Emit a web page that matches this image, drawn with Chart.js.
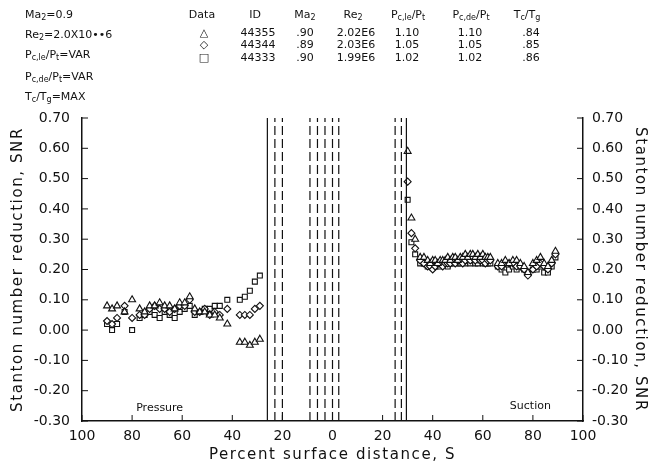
<!DOCTYPE html>
<html>
<head>
<meta charset="utf-8">
<script src="https://cdn.jsdelivr.net/npm/chart.js@4.4.0/dist/chart.umd.min.js"></script>
<style>
  body { margin: 0; background: #fff; }
  #wrap { position: relative; width: 652px; height: 466px; }
  #wrap canvas { position: absolute; left: 0; top: 0; }
  .hd { position: absolute; font-family: "DejaVu Sans", sans-serif; font-size: 11px; color: #111; white-space: nowrap; line-height: 14px; }
  .c { text-align: center; width: 70px; }
  sub { font-size: 8px; vertical-align: -2px; line-height: 0; }
</style>
</head>
<body>
<div id="wrap">
  <canvas id="chart" width="652" height="466"></canvas>

  <div class="hd" style="left:25px;top:8px">Ma<sub>2</sub>=0.9</div>
  <div class="hd" style="left:25px;top:28px">Re<sub>2</sub>=2.0X10••6</div>
  <div class="hd" style="left:25px;top:48px">P<sub>c,le</sub>/P<sub>t</sub>=VAR</div>
  <div class="hd" style="left:25px;top:70px">P<sub>c,de</sub>/P<sub>t</sub>=VAR</div>
  <div class="hd" style="left:25px;top:90px">T<sub>c</sub>/T<sub>g</sub>=MAX</div>

  <div class="hd c" style="left:167px;top:8px">Data</div>
  <div class="hd c" style="left:220px;top:8px">ID</div>
  <div class="hd c" style="left:270px;top:8px">Ma<sub>2</sub></div>
  <div class="hd c" style="left:318px;top:8px">Re<sub>2</sub></div>
  <div class="hd c" style="left:373px;top:8px">P<sub>c,le</sub>/P<sub>t</sub></div>
  <div class="hd c" style="left:436px;top:8px">P<sub>c,de</sub>/P<sub>t</sub></div>
  <div class="hd c" style="left:492px;top:8px">T<sub>c</sub>/T<sub>g</sub></div>

  <div class="hd c" style="left:169px;top:26px">△</div>
  <div class="hd c" style="left:223px;top:26px">44355</div>
  <div class="hd c" style="left:270px;top:26px">.90</div>
  <div class="hd c" style="left:321px;top:26px">2.02E6</div>
  <div class="hd c" style="left:372px;top:26px">1.10</div>
  <div class="hd c" style="left:435px;top:26px">1.10</div>
  <div class="hd c" style="left:496px;top:26px">.84</div>

  <div class="hd c" style="left:169px;top:38px">◇</div>
  <div class="hd c" style="left:223px;top:38px">44344</div>
  <div class="hd c" style="left:270px;top:38px">.89</div>
  <div class="hd c" style="left:321px;top:38px">2.03E6</div>
  <div class="hd c" style="left:372px;top:38px">1.05</div>
  <div class="hd c" style="left:435px;top:38px">1.05</div>
  <div class="hd c" style="left:496px;top:38px">.85</div>

  <div class="hd c" style="left:169px;top:51px">□</div>
  <div class="hd c" style="left:223px;top:51px">44333</div>
  <div class="hd c" style="left:270px;top:51px">.90</div>
  <div class="hd c" style="left:321px;top:51px">1.99E6</div>
  <div class="hd c" style="left:372px;top:51px">1.02</div>
  <div class="hd c" style="left:435px;top:51px">1.02</div>
  <div class="hd c" style="left:496px;top:51px">.86</div>
</div>

<script>
// percent surface distance: pressure side negative, suction side positive
const pressureS = [-90, -88, -86, -83, -80, -77, -75, -73, -71, -69, -67, -65, -63, -61, -59, -57, -55, -53, -51, -49, -47, -45, -42, -37, -35, -33, -31, -29];
const suctionS = [30, 31.5, 33, 35, 36.5,
  38, 39, 40, 41, 42, 43, 44, 45, 46, 47, 48, 49, 50, 51, 52, 53, 54, 55, 56, 57, 58, 59, 60, 61, 62, 63,
  66, 67.5, 69, 70.5, 72, 73.5, 75, 76.5, 78,
  80, 81.5, 83, 84.5, 86, 87.5, 89];

// 44355 (triangles)
const tri_p = [0.08, 0.07, 0.08, 0.06, 0.10, 0.07, 0.06, 0.08, 0.08, 0.09, 0.08, 0.08, 0.07, 0.09, 0.09, 0.11, 0.07, 0.06, 0.06, 0.05, 0.05, 0.04, 0.02, -0.04, -0.04, -0.05, -0.04, -0.03];
const tri_s = [0.59, 0.37, 0.30, 0.24, 0.24,
  0.23, 0.22, 0.23, 0.23, 0.22, 0.23, 0.23, 0.23, 0.24, 0.23, 0.24, 0.24, 0.23, 0.24, 0.24, 0.25, 0.24, 0.25, 0.25, 0.24, 0.25, 0.24, 0.25, 0.24, 0.24, 0.24,
  0.22, 0.22, 0.23, 0.22, 0.23, 0.23, 0.22, 0.21, 0.19,
  0.22, 0.23, 0.24, 0.22, 0.21, 0.23, 0.26];
// 44344 (diamonds)
const dia_p = [0.03, 0.02, 0.04, 0.08, 0.04, 0.05, 0.05, 0.07, 0.08, 0.07, 0.07, 0.06, 0.07, 0.08, 0.08, 0.10, 0.06, 0.06, 0.07, 0.05, 0.06, 0.05, 0.07, 0.05, 0.05, 0.05, 0.07, 0.08];
const dia_s = [0.49, 0.32, 0.27, 0.23, 0.22,
  0.21, 0.21, 0.20, 0.21, 0.22, 0.22, 0.21, 0.22, 0.22, 0.22, 0.23, 0.22, 0.23, 0.23, 0.22, 0.23, 0.24, 0.23, 0.24, 0.23, 0.24, 0.23, 0.23, 0.22, 0.23, 0.23,
  0.21, 0.21, 0.22, 0.22, 0.22, 0.21, 0.21, 0.20, 0.18,
  0.20, 0.21, 0.22, 0.21, 0.20, 0.22, 0.25];
// 44333 (squares)
const sq_p = [0.02, 0.00, 0.02, 0.06, 0.00, 0.04, 0.05, 0.06, 0.05, 0.04, 0.06, 0.05, 0.04, 0.06, 0.07, 0.08, 0.05, 0.06, 0.07, 0.07, 0.08, 0.08, 0.10, 0.10, 0.11, 0.13, 0.16, 0.18];
const sq_s = [0.43, 0.29, 0.25, 0.22, 0.22,
  0.21, 0.22, 0.21, 0.21, 0.22, 0.21, 0.22, 0.22, 0.21, 0.22, 0.22, 0.23, 0.22, 0.22, 0.23, 0.22, 0.23, 0.22, 0.23, 0.22, 0.22, 0.23, 0.22, 0.22, 0.22, 0.22,
  0.21, 0.20, 0.19, 0.20, 0.21, 0.20, 0.21, 0.20, 0.19,
  0.20, 0.20, 0.21, 0.19, 0.19, 0.21, 0.24];

// reference lines (percent surface distance)
const solidLines = [-26, 29.5];
const dashedLines = [-23, -20, -9, -6, -3, 0, 2.5, 25, 27.5];

const yTicks = [-0.3, -0.2, -0.1, 0, 0.1, 0.2, 0.3, 0.4, 0.5, 0.6, 0.7];
const xTicks = [-100, -80, -60, -40, -20, 0, 20, 40, 60, 80, 100];

const FONT = '"DejaVu Sans", sans-serif';

function pts(xs, ys) {
  return xs.map((x, i) => ({ x: x, y: ys[i] }));
}

function marker(label, data, style, r) {
  return {
    type: 'scatter',
    label: label,
    data: data,
    pointStyle: style,
    pointRadius: r,
    pointBorderColor: '#111',
    pointBackgroundColor: '#fff',
    pointBorderWidth: 1.1,
  };
}

function vline(s, dashed) {
  return {
    type: 'line',
    data: [{ x: s, y: -0.3 }, { x: s, y: 0.7 }],
    borderColor: '#111',
    borderWidth: 1.2,
    borderDash: dashed ? [9, 4] : [],
    pointRadius: 0,
    fill: false,
  };
}

const datasets = [
  ...solidLines.map(s => vline(s, false)),
  ...dashedLines.map(s => vline(s, true)),
  marker('44355', pts(pressureS, tri_p).concat(pts(suctionS, tri_s)), 'triangle', 4),
  marker('44344', pts(pressureS, dia_p).concat(pts(suctionS, dia_s)), 'rectRot', 3.5),
  marker('44333', pts(pressureS, sq_p).concat(pts(suctionS, sq_s)), 'rect', 3.5),
];

// wider spacing for the axis titles, like the original lettering
const spacedTitles = {
  id: 'spacedTitles',
  afterUpdate(chart) {
    Object.values(chart.scales).forEach(scale => {
      if (scale._spaced) return;
      const orig = scale.drawTitle;
      scale.drawTitle = function () {
        const ctx = this.ctx;
        const prev = ctx.letterSpacing;
        ctx.letterSpacing = '1.6px';
        orig.apply(this, arguments);
        ctx.letterSpacing = prev || '0px';
      };
      scale._spaced = true;
    });
  }
};

// inward tick marks + side labels
const extras = {
  id: 'extras',
  afterDraw(chart) {
    const { ctx, chartArea, scales } = chart;
    ctx.save();
    ctx.strokeStyle = '#111';
    ctx.lineWidth = 1;
    ctx.beginPath();
    yTicks.forEach(v => {
      const py = scales.y.getPixelForValue(v);
      ctx.moveTo(chartArea.left, py);
      ctx.lineTo(chartArea.left + 6, py);
      ctx.moveTo(chartArea.right, py);
      ctx.lineTo(chartArea.right - 6, py);
    });
    xTicks.forEach(v => {
      const px = scales.x.getPixelForValue(v);
      ctx.moveTo(px, chartArea.bottom);
      ctx.lineTo(px, chartArea.bottom - 6);
    });
    ctx.stroke();
    ctx.fillStyle = '#111';
    ctx.font = '11px ' + FONT;
    ctx.textAlign = 'center';
    ctx.textBaseline = 'middle';
    ctx.fillText('Pressure', scales.x.getPixelForValue(-69), scales.y.getPixelForValue(-0.257));
    ctx.fillText('Suction', scales.x.getPixelForValue(79), scales.y.getPixelForValue(-0.25));
    ctx.restore();
  }
};

const yTickOpts = {
  font: { family: FONT, size: 14 },
  color: '#111',
  callback: v => v.toFixed(2),
};

new Chart(document.getElementById('chart').getContext('2d'), {
  data: { datasets: datasets },
  options: {
    responsive: false,
    animation: false,
    layout: { padding: { left: 0, right: 0, top: 118, bottom: 0 } },
    plugins: { legend: { display: false }, tooltip: { enabled: false } },
    scales: {
      x: {
        type: 'linear',
        min: -100,
        max: 100,
        afterBuildTicks: s => { s.ticks = xTicks.map(v => ({ value: v })); },
        afterFit: s => { s.height = 45; },
        grid: { display: false, drawTicks: false },
        border: { display: true, color: '#111', width: 1.5 },
        ticks: {
          padding: 7,
          font: { family: FONT, size: 14 },
          color: '#111',
          maxRotation: 0,
          callback: v => String(Math.abs(v)),
        },
        title: {
          display: true,
          text: 'Percent surface distance, S',
          font: { family: FONT, size: 15 },
          color: '#111',
          padding: { top: 0, bottom: 2 },
        },
      },
      y: {
        type: 'linear',
        position: 'left',
        min: -0.3,
        max: 0.7,
        afterBuildTicks: s => { s.ticks = yTicks.map(v => ({ value: v })); },
        afterFit: s => { s.width = 82; },
        grid: { display: false, drawTicks: false },
        border: { display: true, color: '#111', width: 1.5 },
        ticks: Object.assign({ padding: 12 }, yTickOpts),
        title: {
          display: true,
          text: 'Stanton number reduction, SNR',
          font: { family: FONT, size: 15 },
          color: '#111',
          padding: { top: 9, bottom: 0 },
        },
      },
      y2: {
        type: 'linear',
        position: 'right',
        min: -0.3,
        max: 0.7,
        afterBuildTicks: s => { s.ticks = yTicks.map(v => ({ value: v })); },
        afterFit: s => { s.width = 69; },
        grid: { display: false, drawTicks: false },
        border: { display: true, color: '#111', width: 1.5 },
        ticks: Object.assign({ padding: 9 }, yTickOpts),
        title: {
          display: true,
          text: 'Stanton number reduction, SNR',
          font: { family: FONT, size: 15 },
          color: '#111',
          padding: { top: 3, bottom: 0 },
        },
      },
    },
  },
  plugins: [spacedTitles, extras],
});
</script>
</body>
</html>
